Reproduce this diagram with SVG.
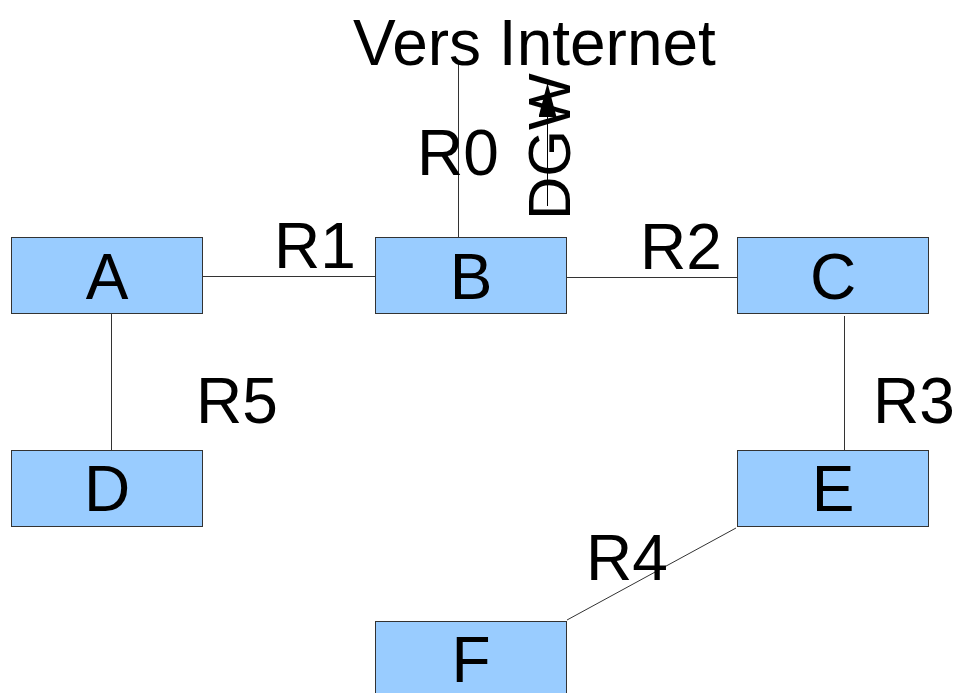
<svg xmlns="http://www.w3.org/2000/svg" width="956" height="693" viewBox="0 0 956 693">
  <style>
    .node rect { fill: #99ccff; stroke: #333333; stroke-width: 1; }
    .node text { font-family: "Liberation Sans", Arial, sans-serif; font-size: 64px; fill: #000000; text-anchor: middle; }
    .lbl { font-family: "Liberation Sans", Arial, sans-serif; font-size: 64px; fill: #000000; }
    .wire { stroke: #333333; stroke-width: 1; fill: none; }
  </style>
  <defs>
    <!-- solid triangular head for the default-gateway arrow -->
    <marker id="arrowhead" viewBox="0 0 34 18" refX="34" refY="9" markerWidth="34" markerHeight="18" markerUnits="userSpaceOnUse" orient="auto">
      <path d="M0,0 L34,9 L0,18 Z" fill="#000000"/>
    </marker>
  </defs>
  <rect width="956" height="693" fill="#ffffff"/>

  <g id="connectors">
    <line class="wire" x1="203" y1="276.5" x2="375" y2="276.5"/>
    <line class="wire" x1="566" y1="277.5" x2="738" y2="277.5"/>
    <line class="wire" x1="111.5" y1="313" x2="111.5" y2="450"/>
    <line class="wire" x1="844.5" y1="316" x2="844.5" y2="450"/>
    <line class="wire" x1="736" y1="528" x2="567" y2="620"/>
    <line class="wire" x1="458.5" y1="62" x2="458.5" y2="237"/>
    <line x1="547.5" y1="206" x2="547.5" y2="83" stroke="#000000" stroke-width="1" marker-end="url(#arrowhead)"/>
  </g>

  <g id="labels">
    <text class="lbl" x="353" y="65" font-size="63">Vers Internet</text>
    <text class="lbl" x="417" y="175">R0</text>
    <text class="lbl" x="274" y="268">R1</text>
    <text class="lbl" x="640" y="269">R2</text>
    <text class="lbl" x="873" y="423">R3</text>
    <text class="lbl" x="586" y="580">R4</text>
    <text class="lbl" x="196" y="423">R5</text>
    <text class="lbl" transform="translate(570,220) rotate(-90)" style="font-size:60px">DGW</text>
  </g>

  <g id="node-A" class="node">
    <rect x="11.5" y="237.5" width="191" height="76"/>
    <text x="107" y="299">A</text>
  </g>
  <g id="node-B" class="node">
    <rect x="375.5" y="237.5" width="191" height="76"/>
    <text x="471" y="299">B</text>
  </g>
  <g id="node-C" class="node">
    <rect x="737.5" y="237.5" width="191" height="76"/>
    <text x="833" y="299">C</text>
  </g>
  <g id="node-D" class="node">
    <rect x="11.5" y="450.5" width="191" height="76"/>
    <text x="107" y="511">D</text>
  </g>
  <g id="node-E" class="node">
    <rect x="737.5" y="450.5" width="191" height="76"/>
    <text x="833" y="511">E</text>
  </g>
  <g id="node-F" class="node">
    <rect x="375.5" y="621.5" width="191" height="80"/>
    <text x="471" y="682">F</text>
  </g>
</svg>
